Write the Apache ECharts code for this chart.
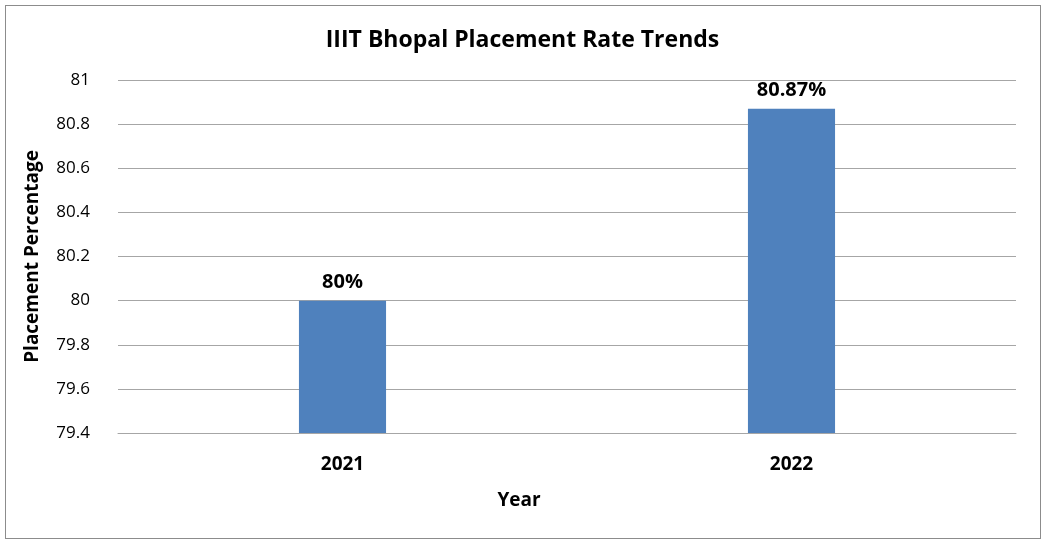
<!DOCTYPE html>
<html><head><meta charset="utf-8">
<script src="https://cdn.jsdelivr.net/npm/echarts@6/dist/echarts.min.js"></script>
<style>html,body{margin:0;padding:0;background:#fff}#c{width:1045px;height:552px}
#b{position:absolute;left:5px;top:5px;width:1034px;height:532px;border:1px solid #8c8c8c;pointer-events:none}</style>
</head><body><div id="c"></div><div id="b"></div>
<script>
const categories = ['2021', '2022'];
const values = [80, 80.87];
const labels = ['80%', '80.87%'];
const chart = echarts.init(document.getElementById('c'));
const F = '"Open Sans", "Liberation Sans", sans-serif';
chart.setOption({
  title: {text: 'IIIT Bhopal Placement Rate Trends', left: 'center', top: 24,
    textStyle: {fontFamily: F, fontSize: 23, fontWeight: 'bold', color: '#000'}},
  grid: {left: 118, right: 29, top: 80, bottom: 119},
  xAxis: {type: 'category', data: categories, name: 'Year', nameLocation: 'middle', nameGap: 58,
    nameTextStyle: {fontFamily: F, fontSize: 19, fontWeight: 'bold', color: '#000', padding: [0, 96, 0, 0]},
    axisTick: {show: false}, axisLine: {lineStyle: {color: '#a6a6a6'}},
    axisLabel: {fontFamily: F, fontSize: 19, fontWeight: 'bold', color: '#000', margin: 22}},
  yAxis: {type: 'value', min: 79.4, max: 81, interval: 0.2, name: 'Placement Percentage',
    nameLocation: 'middle', nameGap: 76,
    nameTextStyle: {fontFamily: F, fontSize: 19, fontWeight: 'bold', color: '#000'},
    axisLine: {show: false}, axisTick: {show: false},
    splitLine: {lineStyle: {color: '#a6a6a6'}},
    axisLabel: {fontFamily: F, fontSize: 17, color: '#000', margin: 28,
      formatter: v => String(Math.round(v * 10) / 10)}},
  series: [{type: 'bar', data: values, barWidth: '19.4%', itemStyle: {color: '#4f81bd'},
    label: {show: true, position: 'top', distance: 8, fontFamily: F, fontSize: 20, fontWeight: 'bold', color: '#000',
      formatter: p => labels[p.dataIndex]}}]
});
</script></body></html>
